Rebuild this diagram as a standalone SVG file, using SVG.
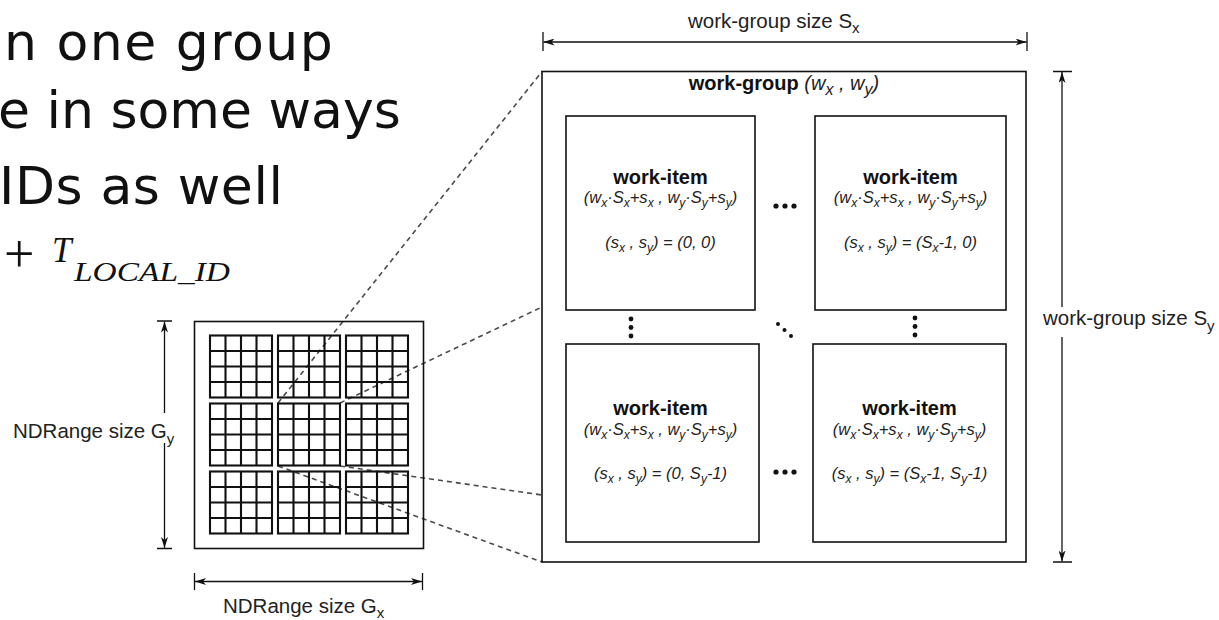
<svg xmlns="http://www.w3.org/2000/svg" xmlns:xlink="http://www.w3.org/1999/xlink" width="1219" height="620" viewBox="0 0 1219 620">
<style>
.box{fill:#fff;stroke:#111;stroke-width:1.6}
.grid{fill:none;stroke:#111;stroke-width:2.1}
.dash{fill:none;stroke:#4a4a4a;stroke-width:1.6;stroke-dasharray:5 4}
.dim{fill:none;stroke:#111;stroke-width:1.3}
.tick{fill:none;stroke:#111;stroke-width:1.3}
.lbl{font-family:"Liberation Sans",Arial,sans-serif;font-size:20.5px;fill:#222}
.title{font-family:"Liberation Sans",Arial,sans-serif;font-size:20px;font-weight:bold;fill:#111}
.it{font-family:"Liberation Sans",Arial,sans-serif;font-style:italic;font-size:16.5px;fill:#222}
.slide{font-family:"DejaVu Sans",sans-serif;font-size:52px;fill:#111}
.math{font-family:"Liberation Serif",serif;fill:#111}
.dot{fill:#111}
</style>
<defs>
<marker id="ah" viewBox="0 0 11 7" refX="11" refY="3.5" markerWidth="11" markerHeight="7" markerUnits="userSpaceOnUse" orient="auto-start-reverse">
<path d="M0,0 L11,3.5 L0,7 L3,3.5 z" fill="#111"/>
</marker>
<g id="blk">
<rect x="0" y="0" width="62" height="62" class="grid"/>
<path class="grid" d="M15.5,0V62M31,0V62M46.5,0V62M0,15.5H62M0,31H62M0,46.5H62"/>
</g>
</defs>
<rect width="1219" height="620" fill="#fff"/>

<g id="slide-text">
<text class="slide" x="4" y="60" letter-spacing="1.5">n one group</text>
<text class="slide" x="-2" y="128">e in some ways</text>
<text class="slide" x="-1" y="204" letter-spacing="0.6">IDs as well</text>
<text class="math" x="4" y="272" font-size="54">+</text>
<text class="math" x="52" y="262" font-size="35" font-style="italic">T</text>
<text class="math" x="74" y="281" font-size="27" font-style="italic" textLength="156" lengthAdjust="spacingAndGlyphs">LOCAL_ID</text>
</g>

<g id="connectors">
<line class="dash" x1="278" y1="403" x2="542" y2="71.5"/>
<line class="dash" x1="340" y1="403" x2="542" y2="307"/>
<line class="dash" x1="340" y1="466" x2="542" y2="495"/>
<line class="dash" x1="278" y1="466" x2="542" y2="562"/>
</g>

<g id="ndrange">
<rect class="box" x="194.5" y="321.5" width="229" height="227" style="fill:none"/>
<use xlink:href="#blk" x="210" y="335.5"/>
<use xlink:href="#blk" x="278" y="335.5"/>
<use xlink:href="#blk" x="346" y="335.5"/>
<use xlink:href="#blk" x="210" y="403.5"/>
<use xlink:href="#blk" x="278" y="403.5"/>
<use xlink:href="#blk" x="346" y="403.5"/>
<use xlink:href="#blk" x="210" y="471.5"/>
<use xlink:href="#blk" x="278" y="471.5"/>
<use xlink:href="#blk" x="346" y="471.5"/>
</g>

<g id="ndrange-gy">
<path class="tick" d="M157,321H172M157,548.5H172"/>
<line class="dim" x1="164.5" y1="413" x2="164.5" y2="321.5" marker-end="url(#ah)"/>
<line class="dim" x1="164.5" y1="443" x2="164.5" y2="548" marker-end="url(#ah)"/>
<text class="lbl" x="13" y="438">NDRange size G<tspan font-size="15" dy="6">y</tspan></text>
</g>

<g id="ndrange-gx">
<path class="tick" d="M194.5,573V590M422.5,573V590"/>
<line class="dim" x1="195" y1="581.5" x2="422" y2="581.5" marker-start="url(#ah)" marker-end="url(#ah)"/>
<text class="lbl" x="223" y="613">NDRange size G<tspan font-size="15" dy="5">x</tspan></text>
</g>

<g id="workgroup">
<rect class="box" x="542" y="71.5" width="484" height="490.5" style="fill:none"/>
<text x="784" y="90" text-anchor="middle"><tspan class="title">work-group </tspan><tspan class="it" style="font-size:20px">(w<tspan font-size="16" dy="5">x</tspan><tspan dy="-5"> , w</tspan><tspan font-size="16" dy="5">y</tspan><tspan dy="-5">)</tspan></tspan></text>
</g>

<g id="wg-sx">
<path class="tick" d="M543,32V51M1027,32V51"/>
<line class="dim" x1="543.5" y1="42" x2="1026.5" y2="42" marker-start="url(#ah)" marker-end="url(#ah)"/>
<text class="lbl" x="688" y="28">work-group size S<tspan font-size="15" dy="5">x</tspan></text>
</g>

<g id="wg-sy">
<path class="tick" d="M1053,71.5H1072M1053,562H1072"/>
<line class="dim" x1="1062" y1="307" x2="1062" y2="72" marker-end="url(#ah)"/>
<line class="dim" x1="1062" y1="337" x2="1062" y2="561.5" marker-end="url(#ah)"/>
<text class="lbl" x="1043" y="325">work-group size S<tspan font-size="15" dy="6">y</tspan></text>
</g>

<g id="item-0-0">
<rect class="box" x="566" y="116" width="189" height="194"/>
<text class="title" x="660.5" y="184" text-anchor="middle">work-item</text>
<text class="it" x="660.5" y="203" text-anchor="middle">(w<tspan font-size="12" dy="4">x</tspan><tspan dy="-4">·S</tspan><tspan font-size="12" dy="4">x</tspan><tspan dy="-4">+s</tspan><tspan font-size="12" dy="4">x</tspan><tspan dy="-4"> , w</tspan><tspan font-size="12" dy="4">y</tspan><tspan dy="-4">·S</tspan><tspan font-size="12" dy="4">y</tspan><tspan dy="-4">+s</tspan><tspan font-size="12" dy="4">y</tspan><tspan dy="-4">)</tspan></text>
<text class="it" x="660.5" y="248" text-anchor="middle">(s<tspan font-size="12" dy="4">x</tspan><tspan dy="-4"> , s</tspan><tspan font-size="12" dy="4">y</tspan><tspan dy="-4">) = (0, 0)</tspan></text>
</g>

<g id="item-n-0">
<rect class="box" x="815" y="116" width="191" height="194"/>
<text class="title" x="910.5" y="184" text-anchor="middle">work-item</text>
<text class="it" x="910.5" y="203" text-anchor="middle">(w<tspan font-size="12" dy="4">x</tspan><tspan dy="-4">·S</tspan><tspan font-size="12" dy="4">x</tspan><tspan dy="-4">+s</tspan><tspan font-size="12" dy="4">x</tspan><tspan dy="-4"> , w</tspan><tspan font-size="12" dy="4">y</tspan><tspan dy="-4">·S</tspan><tspan font-size="12" dy="4">y</tspan><tspan dy="-4">+s</tspan><tspan font-size="12" dy="4">y</tspan><tspan dy="-4">)</tspan></text>
<text class="it" x="910.5" y="248" text-anchor="middle">(s<tspan font-size="12" dy="4">x</tspan><tspan dy="-4"> , s</tspan><tspan font-size="12" dy="4">y</tspan><tspan dy="-4">) = (S</tspan><tspan font-size="12" dy="4">x</tspan><tspan dy="-4">-1, 0)</tspan></text>
</g>

<g id="item-0-n">
<rect class="box" x="566" y="344" width="193" height="198"/>
<text class="title" x="660.5" y="415" text-anchor="middle">work-item</text>
<text class="it" x="660.5" y="435" text-anchor="middle">(w<tspan font-size="12" dy="4">x</tspan><tspan dy="-4">·S</tspan><tspan font-size="12" dy="4">x</tspan><tspan dy="-4">+s</tspan><tspan font-size="12" dy="4">x</tspan><tspan dy="-4"> , w</tspan><tspan font-size="12" dy="4">y</tspan><tspan dy="-4">·S</tspan><tspan font-size="12" dy="4">y</tspan><tspan dy="-4">+s</tspan><tspan font-size="12" dy="4">y</tspan><tspan dy="-4">)</tspan></text>
<text class="it" x="660.5" y="479" text-anchor="middle">(s<tspan font-size="12" dy="4">x</tspan><tspan dy="-4"> , s</tspan><tspan font-size="12" dy="4">y</tspan><tspan dy="-4">) = (0, S</tspan><tspan font-size="12" dy="4">y</tspan><tspan dy="-4">-1)</tspan></text>
</g>

<g id="item-n-n">
<rect class="box" x="813" y="344" width="193" height="198"/>
<text class="title" x="909.5" y="415" text-anchor="middle">work-item</text>
<text class="it" x="909.5" y="435" text-anchor="middle">(w<tspan font-size="12" dy="4">x</tspan><tspan dy="-4">·S</tspan><tspan font-size="12" dy="4">x</tspan><tspan dy="-4">+s</tspan><tspan font-size="12" dy="4">x</tspan><tspan dy="-4"> , w</tspan><tspan font-size="12" dy="4">y</tspan><tspan dy="-4">·S</tspan><tspan font-size="12" dy="4">y</tspan><tspan dy="-4">+s</tspan><tspan font-size="12" dy="4">y</tspan><tspan dy="-4">)</tspan></text>
<text class="it" x="909.5" y="479" text-anchor="middle">(s<tspan font-size="12" dy="4">x</tspan><tspan dy="-4"> , s</tspan><tspan font-size="12" dy="4">y</tspan><tspan dy="-4">) = (S</tspan><tspan font-size="12" dy="4">x</tspan><tspan dy="-4">-1, S</tspan><tspan font-size="12" dy="4">y</tspan><tspan dy="-4">-1)</tspan></text>
</g>

<g id="ellipses">
<circle class="dot" cx="776" cy="206" r="2.6"/><circle class="dot" cx="785" cy="206" r="2.6"/><circle class="dot" cx="794" cy="206" r="2.6"/>
<circle class="dot" cx="776" cy="472" r="2.6"/><circle class="dot" cx="785" cy="472" r="2.6"/><circle class="dot" cx="794" cy="472" r="2.6"/>
<circle class="dot" cx="631" cy="319" r="2.4"/><circle class="dot" cx="631" cy="327.5" r="2.4"/><circle class="dot" cx="631" cy="336" r="2.4"/>
<circle class="dot" cx="915" cy="318" r="2.4"/><circle class="dot" cx="915" cy="326.5" r="2.4"/><circle class="dot" cx="915" cy="335" r="2.4"/>
<circle class="dot" cx="778" cy="324" r="2"/><circle class="dot" cx="784.5" cy="330" r="2"/><circle class="dot" cx="791" cy="336" r="2"/>
</g>
</svg>
